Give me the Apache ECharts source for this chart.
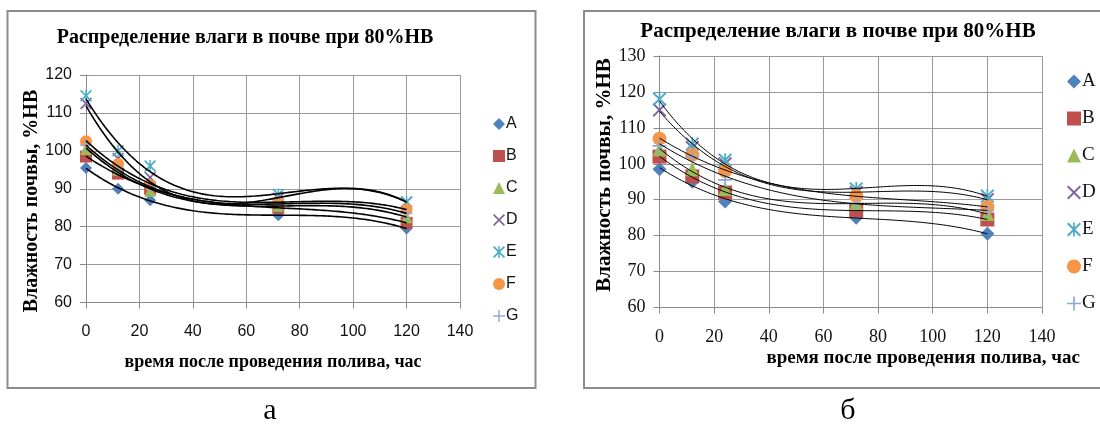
<!DOCTYPE html>
<html>
<head>
<meta charset="utf-8">
<script src="https://cdn.jsdelivr.net/npm/echarts@6/dist/echarts.min.js"></script>
<style>
  html, body { margin: 0; padding: 0; background: #fff; overflow: hidden; }
  #chart { width: 1100px; height: 425px; }
</style>
</head>
<body>
<div id="chart"></div>
<script>
// время после полива, час
const hours = [0, 12, 24, 72, 120]
const names = ['A', 'B', 'C', 'D', 'E', 'F', 'G']

// график а
const leftA = [95.5, 90, 87, 83, 79.5]
const leftB = [98.5, 94, 90, 85, 81]
const leftC = [100.5, 95, 89.5, 85.5, 82.5]
const leftD = [112.5, 98, 93, 87.5, 86.5]
const leftE = [114.5, 100, 96, 88.5, 86.5]
const leftF = [102.5, 96.5, 91, 86.5, 84.5]
const leftG = [101.5, 95, 90.5, 86, 83.5]

// график б
const rightA = [98.5, 95, 89.5, 85, 80.5]
const rightB = [102, 96.5, 92, 87, 84.5]
const rightC = [104, 98.5, 93, 89, 86]
const rightD = [115, 104.5, 100, 92, 90]
const rightE = [118, 105.5, 101, 93, 91]
const rightF = [107, 102.5, 98, 91, 88]
const rightG = [105, 102, 95.5, 89, 87]

const xTicks = [0, 20, 40, 60, 80, 100, 120, 140]

const leftData = [leftA, leftB, leftC, leftD, leftE, leftF, leftG]
const rightData = [rightA, rightB, rightC, rightD, rightE, rightF, rightG]

const colors = ['#4F81BD', '#C0504D', '#9BBB59', '#8064A2', '#4BACC6', '#F79646', '#8DA9DB']
const xPath = 'path://M0,1L1,0L5,4L9,0L10,1L6,5L10,9L9,10L5,6L1,10L0,9L4,5Z'
const starPath = 'path://M0,1L1,0L5,4L9,0L10,1L6,5L10,9L9,10L5,6L1,10L0,9L4,5Z M4.4,0H5.6V10H4.4Z'
const plusPath = 'path://M4.4,0H5.6V4.4H10V5.6H5.6V10H4.4V5.6H0V4.4H4.4Z'
const symbols = ['diamond', 'rect', 'triangle', xPath, starPath, 'circle', plusPath]

const serif = '"Liberation Serif", "Times New Roman", serif'
const narrow = '"Liberation Sans Narrow", "Liberation Sans", Arial, sans-serif'

// полиномиальная линия тренда 3-й степени (как в Excel)
function cubicFit(xs, ys) {
	const n = 4
	const t = xs.map((x) => x / 100)
	let m = []
	for (let i = 0; i < n; i++) {
		let row = []
		for (let j = 0; j < n; j++) {
			row.push(t.reduce((s, v) => s + Math.pow(v, i + j), 0))
		}
		row.push(t.reduce((s, v, k) => s + ys[k] * Math.pow(v, i), 0))
		m.push(row)
	}
	for (let c = 0; c < n; c++) {
		let p = c
		for (let r = c + 1; r < n; r++) if (Math.abs(m[r][c]) > Math.abs(m[p][c])) p = r
		;[m[c], m[p]] = [m[p], m[c]]
		for (let r = 0; r < n; r++) {
			if (r === c) continue
			const f = m[r][c] / m[c][c]
			for (let k = c; k <= n; k++) m[r][k] -= f * m[c][k]
		}
	}
	const coef = m.map((row, i) => row[n] / row[i])
	return (x) => coef.reduce((s, a, i) => s + a * Math.pow(x / 100, i), 0)
}

function buildSeries(data, idx, markSize, lineWidth) {
	let list = []
	data.forEach((vals, i) => {
		list.push({
			name: names[i],
			type: 'scatter',
			xAxisIndex: idx,
			yAxisIndex: idx,
			symbol: symbols[i],
			symbolSize: markSize,
			itemStyle: { color: colors[i], opacity: 1 },
			z: 2,
			data: hours.map((h, k) => [h, vals[k]])
		})
	})
	data.forEach((vals, i) => {
		const f = cubicFit(hours, vals)
		let pts = []
		for (let x = hours[0]; x <= hours[hours.length - 1]; x += 1) pts.push([x, f(x)])
		list.push({
			name: 'trend ' + names[i],
			type: 'line',
			xAxisIndex: idx,
			yAxisIndex: idx,
			showSymbol: false,
			silent: true,
			z: 3,
			lineStyle: { color: '#000', width: lineWidth },
			data: pts
		})
	})
	return list
}

function axisPair(idx, yMin, yMax, font, size) {
	const gridLine = { lineStyle: { color: '#9a9a9a', width: 1 } }
	const axisLine = { show: true, lineStyle: { color: '#8a8a8a', width: 1 } }
	const tick = { show: true, length: 6, lineStyle: { color: '#8a8a8a' } }
	return {
		x: {
			type: 'value', gridIndex: idx, min: 0, max: 140, interval: 20,
			axisLine: axisLine, axisTick: tick, splitLine: gridLine,
			axisLabel: { margin: 21, color: '#111', fontFamily: font, fontSize: size,
				formatter: (v) => (xTicks.indexOf(v) >= 0 ? v : '') }
		},
		y: {
			type: 'value', gridIndex: idx, min: yMin, max: yMax, interval: 10,
			axisLine: axisLine, axisTick: tick, splitLine: gridLine,
			axisLabel: { margin: 14, color: '#111', fontFamily: font, fontSize: size }
		}
	}
}

const axL = axisPair(0, 60, 120, narrow, 16)
const axR = axisPair(1, 60, 130, serif, 18)

const titleText = 'Распределение влаги в почве при 80%НВ'
const xName = 'время после проведения полива, час'
const yName = 'Влажность почвы, %НВ'

function txt(x, y, text, font, opts) {
	return Object.assign({
		type: 'text', x: x, y: y, silent: true,
		style: { text: text, font: font, fill: '#000', align: 'center', verticalAlign: 'middle' }
	}, opts || {})
}

let myChart = echarts.init(document.getElementById('chart'))
let option = {
	backgroundColor: '#fff',
	animation: false,
	grid: [
		{ left: 86, top: 75, width: 374, height: 227.5 },
		{ left: 659.5, top: 56, width: 382.5, height: 251.5 }
	],
	xAxis: [axL.x, axR.x],
	yAxis: [axL.y, axR.y],
	legend: [
		{
			data: names, orient: 'vertical', left: 488, top: 111,
			itemWidth: 12, itemHeight: 12, itemGap: 16, selectedMode: false,
			textStyle: { fontFamily: narrow, fontSize: 16, color: '#111', lineHeight: 12, padding: [0, 0, 0, -4] }
		},
		{
			data: names, orient: 'vertical', left: 1062, top: 67,
			itemWidth: 14, itemHeight: 14, itemGap: 18, selectedMode: false,
			textStyle: { fontFamily: serif, fontSize: 19, color: '#111', lineHeight: 14, padding: [0, 0, 0, -4] }
		}
	],
	graphic: [
		{ type: 'rect', silent: true, z: -1, shape: { x: 7.5, y: 11, width: 528, height: 377 },
			style: { fill: 'none', stroke: '#8c8c8c', lineWidth: 2 } },
		{ type: 'rect', silent: true, z: -1, shape: { x: 584, y: 11, width: 540, height: 377 },
			style: { fill: 'none', stroke: '#8c8c8c', lineWidth: 2 } },
		txt(245, 38, titleText, 'bold 20px ' + serif),
		txt(838, 32, titleText, 'bold 21px ' + serif),
		txt(273, 362, xName, 'bold 18px ' + serif),
		txt(1080, 358, xName, 'bold 19px ' + serif, { style: { text: xName, font: 'bold 19px ' + serif, fill: '#000', align: 'right', verticalAlign: 'middle' } }),
		txt(32, 201, yName, 'bold 20px ' + serif, { rotation: Math.PI / 2 }),
		txt(605, 175, yName, 'bold 21px ' + serif, { rotation: Math.PI / 2 }),
		txt(270, 411, 'а', '30px ' + serif),
		txt(848, 411, 'б', '30px ' + serif)
	],
	series: buildSeries(leftData, 0, 12, 1.6).concat(buildSeries(rightData, 1, 14, 1))
}
myChart.setOption(option)
</script>
</body>
</html>
